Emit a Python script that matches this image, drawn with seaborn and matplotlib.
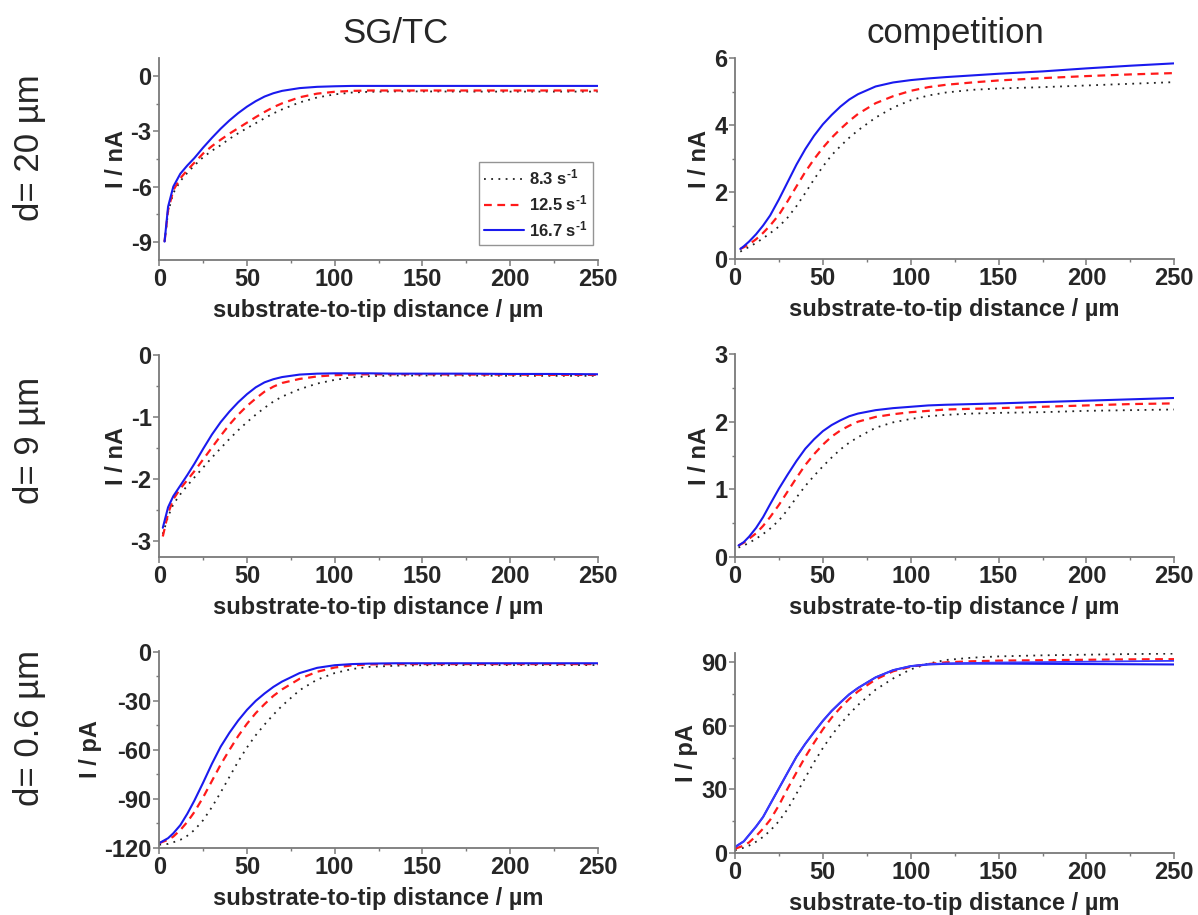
import matplotlib
matplotlib.use("Agg")
import matplotlib.pyplot as plt
from matplotlib.ticker import MultipleLocator
import seaborn as sns

# ---------------- data ----------------
X_TOP = [3, 5, 8, 12, 16, 20, 25, 30, 35, 40, 45, 50, 55, 60, 65, 70, 80, 90, 100, 110, 120, 135, 150, 175, 200, 225, 250]
X_MID = [2, 5, 8, 12, 16, 20, 25, 30, 35, 40, 45, 50, 55, 60, 65, 70, 80, 90, 100, 110, 120, 135, 150, 175, 200, 225, 250]
X_BOT = [0, 5, 8, 12, 16, 20, 25, 30, 35, 40, 45, 50, 55, 60, 65, 70, 80, 90, 100, 110, 120, 135, 150, 175, 200, 225, 250]

rates = ["8.3", "12.5", "16.7"]

# SG/TC, d = 20 um (nA)
sgtc20_83 = [-9.0, -7.4, -6.35, -5.7, -5.25, -4.85, -4.4, -4.05, -3.75, -3.4, -3.1, -2.82, -2.55, -2.28, -2.02, -1.8, -1.42, -1.15, -0.98, -0.88, -0.84, -0.82, -0.82, -0.83, -0.83, -0.83, -0.83]
sgtc20_125 = [-9.0, -7.3, -6.2, -5.55, -5.1, -4.7, -4.2, -3.8, -3.45, -3.12, -2.82, -2.52, -2.22, -1.94, -1.68, -1.47, -1.14, -0.94, -0.84, -0.79, -0.77, -0.77, -0.77, -0.77, -0.77, -0.77, -0.77]
sgtc20_167 = [-9.0, -7.1, -6.0, -5.3, -4.85, -4.45, -3.88, -3.35, -2.85, -2.4, -2.0, -1.65, -1.35, -1.1, -0.92, -0.79, -0.64, -0.57, -0.54, -0.52, -0.52, -0.52, -0.52, -0.52, -0.52, -0.52, -0.52]

# competition, d = 20 um (nA)
comp20_83 = [0.22, 0.28, 0.36, 0.48, 0.62, 0.77, 0.97, 1.24, 1.58, 1.97, 2.38, 2.76, 3.1, 3.37, 3.62, 3.84, 4.22, 4.52, 4.74, 4.88, 4.97, 5.05, 5.09, 5.13, 5.18, 5.23, 5.28]
comp20_125 = [0.3, 0.35, 0.44, 0.59, 0.78, 1.0, 1.32, 1.73, 2.17, 2.6, 2.98, 3.32, 3.62, 3.88, 4.12, 4.33, 4.65, 4.86, 5.02, 5.13, 5.2, 5.27, 5.33, 5.4, 5.46, 5.51, 5.55]
comp20_167 = [0.3, 0.38, 0.52, 0.74, 1.0, 1.3, 1.78, 2.3, 2.82, 3.28, 3.68, 4.02, 4.3, 4.55, 4.76, 4.92, 5.15, 5.27, 5.34, 5.39, 5.43, 5.48, 5.53, 5.6, 5.69, 5.77, 5.84]

# SG/TC, d = 9 um (nA)
sgtc9_83 = [-2.88, -2.6, -2.4, -2.24, -2.1, -1.97, -1.81, -1.65, -1.5, -1.35, -1.21, -1.08, -0.96, -0.85, -0.75, -0.67, -0.55, -0.46, -0.4, -0.36, -0.34, -0.33, -0.33, -0.33, -0.335, -0.335, -0.335]
sgtc9_125 = [-2.92, -2.55, -2.32, -2.15, -2.01, -1.87, -1.68, -1.49, -1.3, -1.12, -0.96, -0.82, -0.7, -0.59, -0.51, -0.45, -0.385, -0.345, -0.325, -0.315, -0.31, -0.31, -0.31, -0.315, -0.315, -0.32, -0.32]
sgtc9_167 = [-2.78, -2.45, -2.27, -2.1, -1.93, -1.75, -1.51, -1.28, -1.08, -0.91, -0.76, -0.63, -0.52, -0.44, -0.39, -0.355, -0.315, -0.3, -0.295, -0.295, -0.295, -0.3, -0.3, -0.3, -0.305, -0.305, -0.31]

# competition, d = 9 um (nA)
comp9_83 = [0.14, 0.17, 0.21, 0.27, 0.34, 0.42, 0.54, 0.7, 0.88, 1.05, 1.2, 1.34, 1.47, 1.59, 1.69, 1.77, 1.91, 1.99, 2.04, 2.08, 2.1, 2.12, 2.13, 2.14, 2.16, 2.17, 2.18]
comp9_125 = [0.17, 0.21, 0.27, 0.35, 0.46, 0.59, 0.77, 0.97, 1.17, 1.36, 1.52, 1.66, 1.78, 1.87, 1.94, 2.0, 2.07, 2.11, 2.14, 2.16, 2.18, 2.19, 2.2, 2.22, 2.24, 2.26, 2.27]
comp9_167 = [0.17, 0.22, 0.3, 0.43, 0.59, 0.78, 1.01, 1.22, 1.42, 1.6, 1.74, 1.86, 1.95, 2.02, 2.08, 2.12, 2.17, 2.2, 2.22, 2.24, 2.25, 2.26, 2.27, 2.29, 2.31, 2.33, 2.35]

# SG/TC, d = 0.6 um (pA)
sgtc06_83 = [-118, -117.5, -116.5, -115, -112.5, -109, -103, -95, -86, -76.5, -67, -58.5, -51, -44.5, -38.5, -33, -23.5, -17, -13, -10.5, -9.2, -8.5, -8.2, -8.1, -8.1, -8.1, -8.1]
sgtc06_125 = [-117, -115, -113, -109, -104, -98, -89, -79, -69, -60, -51.5, -44, -37.5, -32, -27, -23, -16.5, -12.2, -9.6, -8.3, -7.7, -7.5, -7.5, -7.5, -7.5, -7.5, -7.5]
sgtc06_167 = [-117, -114, -111, -106, -99, -91, -80, -68.5, -58, -49.5, -42, -35.5, -30, -25.5, -21.5, -18.2, -13, -9.8, -8.2, -7.5, -7.2, -7.0, -7.0, -7.0, -7.0, -7.0, -7.0]

# competition, d = 0.6 um (pA)
comp06_83 = [1.3, 2.5, 3.5, 5.3, 7.6, 10.5, 15, 20.8, 28, 35.5, 42.8, 49.5, 55.5, 60.8, 65.5, 69.8, 77, 82.3, 86.6, 89.3, 91, 92.1, 92.7, 93.2, 93.5, 93.8, 94]
comp06_125 = [2, 3.5, 5, 8, 11.5, 15.6, 22.5, 30.5, 38, 45.3, 52, 58.3, 63.8, 68.5, 72.6, 76.2, 81.8, 85.7, 87.8, 89.1, 89.9, 90.4, 90.7, 90.9, 91.1, 91.3, 91.4]
comp06_167 = [2.8, 5.5, 8.5, 12.5, 17, 23, 30.5, 38, 45.4, 51.5, 57, 62.3, 67, 71, 74.8, 77.8, 82.8, 86.2, 88.1, 88.9, 89.2, 89.3, 89.3, 89.2, 89.1, 89.0, 88.9]
comp06_167b = [2.8, 5.5, 8.5, 12.5, 17, 23, 30.5, 38, 45.4, 51.5, 57, 62.3, 67, 71, 74.8, 77.8, 82.8, 86.2, 88.1, 89.0, 89.4, 89.6, 89.8, 90.0, 90.2, 90.4, 90.6]

panels = [
    # (x, series, ylim, major, minor, ylabel, box(l, r, t, b))
    (X_TOP, [sgtc20_83, sgtc20_125, sgtc20_167], (-10, 1), 3, 1.5, "I / nA", (159.3, 597.7, 58, 260)),
    (X_TOP, [comp20_83, comp20_125, comp20_167], (0, 6), 2, 1, "I / nA", (735, 1174.3, 58, 259)),
    (X_MID, [sgtc9_83, sgtc9_125, sgtc9_167], (-3.25, 0), 1, 0.5, "I / nA", (159.3, 597.7, 355, 557)),
    (X_MID, [comp9_83, comp9_125, comp9_167], (0, 3), 1, 0.5, "I / nA", (735, 1174.3, 354, 557)),
    (X_BOT, [sgtc06_83, sgtc06_125, sgtc06_167], (-120, 0.5), 30, 15, "I / pA", (159.3, 597.7, 651, 848)),
    (X_BOT, [comp06_83, comp06_125, comp06_167, comp06_167b], (0, 94.3), 30, 15, "I / pA", (735, 1174.3, 653, 853)),
]

# ---------------- style ----------------
sns.set_style("ticks")
plt.rcParams["font.family"] = ["Liberation Sans", "DejaVu Sans"]
plt.rcParams["axes.unicode_minus"] = False
plt.rcParams["mathtext.fontset"] = "custom"
plt.rcParams["mathtext.rm"] = "Liberation Sans:bold"
plt.rcParams["mathtext.bf"] = "Liberation Sans:bold"
plt.rcParams["mathtext.default"] = "rm"

W, H = 1198, 915
fig = plt.figure(figsize=(W / 100, H / 100), dpi=100)

styles = [
    dict(color="#222222", linestyle=(0, (1, 3)), linewidth=1.3),
    dict(color="#ff1a1a", linestyle=(0, (3.5, 2.5)), linewidth=1.6),
    dict(color="#1a1aee", linestyle="-", linewidth=1.5),
    dict(color="#3a3aff", linestyle="-", linewidth=1.3),
]
AX_GRAY = "#7a7a7a"

axes = []
for i, (xs, series, ylim, major, minor, ylab, box) in enumerate(panels):
    l, r, t, b = box
    ax = fig.add_axes([l / W, 1 - b / H, (r - l) / W, (b - t) / H])
    for j, ys in enumerate(series):
        lab = (rates[j] + r" s$^{\text{-}1}$") if j < 3 else None
        sns.lineplot(x=xs, y=ys, ax=ax, label=lab, legend=False, **styles[j])
    ax.set_xlim(0, 250)
    ax.set_ylim(*ylim)
    ax.xaxis.set_major_locator(MultipleLocator(50))
    ax.xaxis.set_minor_locator(MultipleLocator(25))
    ax.yaxis.set_major_locator(MultipleLocator(major))
    ax.yaxis.set_minor_locator(MultipleLocator(minor))
    for s in ["top", "right"]:
        ax.spines[s].set_visible(False)
    for s in ["left", "bottom"]:
        ax.spines[s].set_color(AX_GRAY)
        ax.spines[s].set_linewidth(1.3)
    ax.tick_params(which="major", direction="out", length=4, width=1.1, color=AX_GRAY, pad=1.5,
                   labelsize=17)
    ax.tick_params(which="minor", direction="out", length=2.5, width=1.0, color=AX_GRAY)
    for lab_ in ax.get_xticklabels() + ax.get_yticklabels():
        lab_.set_fontweight("bold")
    ax.set_xlabel("substrate-to-tip distance / µm", fontsize=17, fontweight="bold", labelpad=6)
    ax.set_ylabel(ylab, fontsize=17, fontweight="bold", labelpad=2)
    ax.set_facecolor("white")
    axes.append(ax)

leg = axes[0].legend(loc="lower right", bbox_to_anchor=(0.989, 0.074), borderaxespad=0,
                     fontsize=12, handlelength=2.4, handletextpad=0.25, labelspacing=0.35,
                     borderpad=0.35, fancybox=False, frameon=True)
leg.get_frame().set_edgecolor(AX_GRAY)
leg.get_frame().set_linewidth(1.0)
for txt in leg.get_texts():
    txt.set_fontweight("bold")

# column titles
fig.text(395 / W, 1 - 43 / H, "SG/TC", fontsize=25, ha="center", va="baseline")
fig.text(955 / W, 1 - 43 / H, "competition", fontsize=25, ha="center", va="baseline")

# row labels
for yc, txt in [(148, "d= 20 µm"), (440, "d= 9 µm"), (728, "d= 0.6 µm")]:
    fig.text(30 / W, 1 - yc / H, txt, fontsize=25, rotation=90, ha="center", va="center")

fig.savefig("out.png", dpi=100, facecolor="white")
